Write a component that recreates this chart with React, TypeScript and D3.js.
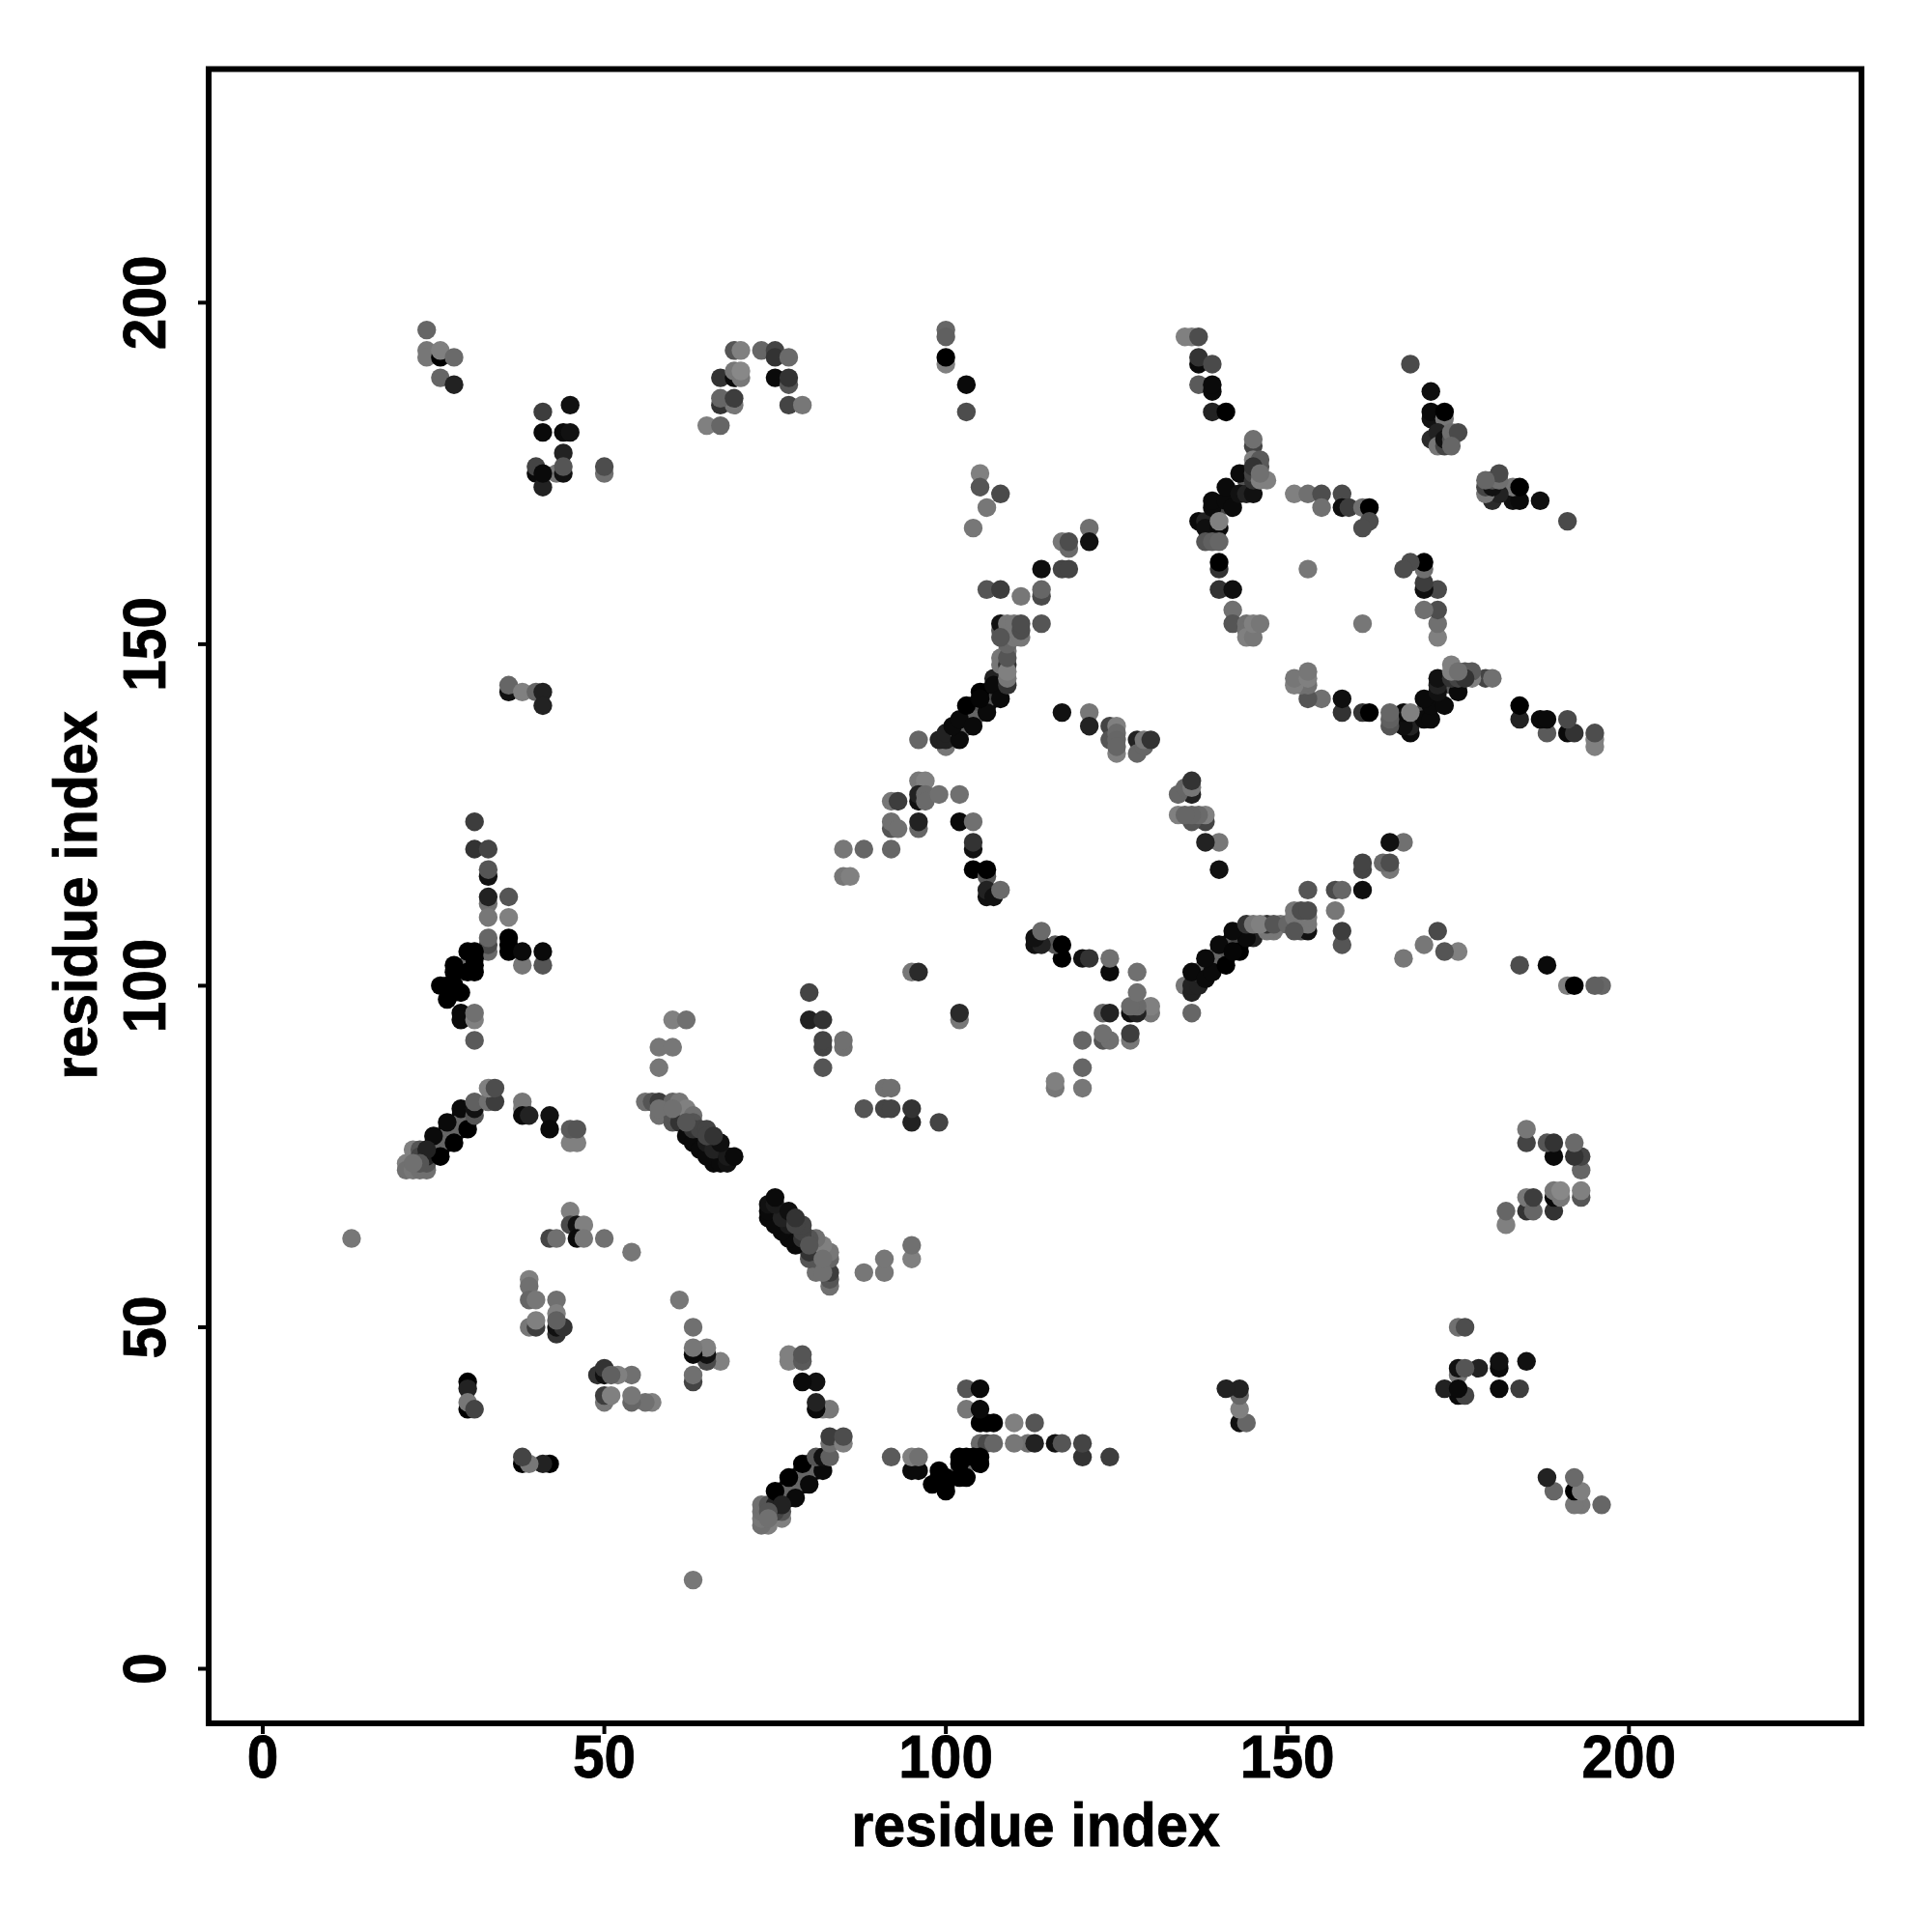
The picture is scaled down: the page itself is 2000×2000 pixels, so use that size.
import React from "react";
import * as d3 from "d3";

// each contact: [residue a, residue b, grey level]; the map is symmetric
type C = [number, number, number];

const topLeftContacts: C[] = [
  [24,196,0x66],[24,193,0x77],[24,192,0x77],[26,192,0x00],[26,193,0x80],[28,192,0x6a],[26,189,0x66],[28,188,0x22],
  [41,184,0x3d],[45,185,0x11],[41,181,0x0a],[44,181,0x0a],[45,181,0x11],[44,178,0x22],[40,175,0x0a],[40,176,0x44],[41,173,0x22],
  [43,175,0x77],[44,175,0x11],[44,176,0x55],[41,175,0x0a],[50,175,0x70],[50,176,0x4d],
  [69,193,0x55],[70,193,0x80],[67,189,0x33],[69,189,0x0a],[69,190,0x77],[70,189,0x77],[70,190,0x88],
  [67,185,0x33],[69,185,0x77],[67,186,0x66],[69,186,0x3d],[65,182,0x80],[67,182,0x66],
  [36,143,0x11],[36,144,0x66],[38,143,0x80],[40,143,0x66],[41,143,0x22],[41,141,0x22],
];

const topMiddleContacts: C[] = [
  [73,193,0x66],[75,193,0x44],[75,192,0x33],[77,192,0x6a],[75,189,0x0a],[77,188,0x55],[77,189,0x33],[77,185,0x44],[79,185,0x77],
  [100,196,0x66],[100,195,0x60],[100,191,0x80],[100,192,0x00],[103,188,0x0a],[103,184,0x4d],
  [105,175,0x80],[105,173,0x55],[108,172,0x4a],[106,170,0x77],[104,167,0x77],
  [121,167,0x70],[121,165,0x11],[117,165,0x77],[118,164,0x6a],[118,165,0x4d],[114,161,0x0f],[117,161,0x44],[118,161,0x44],
  [106,158,0x55],[108,158,0x3d],[111,157,0x77],[114,157,0x4a],[114,158,0x66],[114,153,0x55],
];

const helixBandContacts: C[] = [
  [96,136,0x66],[100,135,0x77],[99,136,0x22],[100,136,0x22],[100,137,0x22],
  [103,138,0x0a],[105,140,0x0a],[106,141,0x0a],[107,142,0x0a],[104,141,0x0a],[106,143,0x11],[108,144,0x0a],[107,145,0x22],
  [102,137,0x66],[103,139,0x3d],[104,140,0x66],
  [105,141,0x55],[106,142,0x55],[107,143,0x44],[104,139,0x66],
  [102,136,0x0a],[101,138,0x0a],[102,139,0x0a],[103,141,0x00],[104,138,0x0a],[105,143,0x00],[106,140,0x0a],[105,142,0x05],[107,144,0x0a],[108,142,0x0a],
  [108,148,0x77],[108,147,0x77],[108,152,0x55],[108,153,0x11],[109,144,0x33],[109,145,0x77],[109,147,0x33],[109,146,0x80],[109,149,0x77],[109,148,0x55],
  [109,150,0x66],[109,151,0x66],[109,152,0x55],[109,153,0x77],[110,153,0x77],[110,151,0x77],[111,151,0x77],[111,152,0x4d],[111,153,0x4d],
  [117,140,0x11],[121,140,0x77],[121,138,0x22],[124,138,0x44],[125,138,0x80],[124,136,0x55],[125,137,0x6a],[125,136,0x66],[125,134,0x80],
  [128,136,0x22],[128,134,0x66],[129,135,0x66],[129,136,0x77],[130,136,0x33],
];

const rightClusterContacts: C[] = [
  [135,195,0x80],[136,195,0x80],[137,195,0x4d],[137,191,0x0a],[137,192,0x33],[139,191,0x4a],[137,188,0x5a],[139,187,0x0a],[139,188,0x0a],[139,184,0x22],[141,184,0x00],
  [145,179,0x44],[145,180,0x70],[145,177,0x80],[146,176,0x55],[146,177,0x5a],[147,174,0x80],
  [140,170,0x44],[142,172,0x55],[144,174,0x55],[144,175,0x66],
  [137,168,0x0a],[138,168,0x22],[138,167,0x0f],[140,167,0x0a],[139,170,0x0a],[139,171,0x0a],[141,171,0x0a],[142,170,0x0a],[141,173,0x0a],[143,172,0x11],[143,175,0x0a],
  [144,172,0x22],[145,172,0x11],[145,174,0x33],[145,175,0x44],[145,176,0x33],[140,168,0x80],
  [138,165,0x55],[139,165,0x60],[140,165,0x66],[140,161,0x33],[140,162,0x00],[140,158,0x33],[142,158,0x0f],[142,155,0x70],[142,153,0x55],
  [144,153,0x70],[144,152,0x70],[144,151,0x80],[145,151,0x77],[145,153,0x80],[146,153,0x77],
  [153,161,0x77],
  [151,172,0x80],[153,172,0x70],[155,172,0x4d],[155,170,0x70],[158,172,0x4a],[158,170,0x0f],[159,170,0x3d],[161,170,0x70],[162,170,0x00],[162,168,0x4d],[161,167,0x4d],
  [168,191,0x4a],[171,187,0x0f],[171,183,0x11],[171,184,0x0a],[173,183,0x77],[173,184,0x00],[171,180,0x2a],[172,181,0x22],[172,179,0x77],[173,179,0x44],[173,180,0x11],[174,180,0x55],[174,181,0x70],[175,181,0x4a],
  [179,173,0x80],[179,174,0x66],[180,173,0x0a],[180,174,0x0a],[181,174,0x80],[181,175,0x55],[180,171,0x33],[183,173,0x80],[184,173,0x0a],[183,171,0x0a],[184,171,0x0a],[187,171,0x11],[191,168,0x4a],
  [167,161,0x4a],[168,162,0x4d],[170,161,0x70],[170,162,0x00],[170,158,0x0a],[170,159,0x33],[172,158,0x4d],[170,155,0x70],[172,155,0x5a],[172,153,0x70],[172,151,0x80],
  [146,174,0x80],[146,175,0x70],
  [153,142,0x55],[155,142,0x70],[158,142,0x11],[158,140,0x33],[161,140,0x44],[162,140,0x00],[165,138,0x5a],[165,140,0x70],[167,138,0x0a],[168,137,0x22],
  [151,144,0x77],[151,145,0x77],[153,144,0x77],[153,145,0x77],[153,146,0x80],
  [184,141,0x0a],[184,139,0x22],[187,139,0x0f],[188,139,0x0a],[188,137,0x4d],[191,139,0x4d],[191,137,0x0f],[192,137,0x33],[195,135,0x80],[195,136,0x70],[195,137,0x4d],
  [179,145,0x4a],[180,145,0x70],[177,146,0x5a],[174,147,0x80],
  [136,128,0x22],[134,128,0x77],[135,129,0x80],[136,129,0x80],[136,130,0x3d],
  [134,125,0x80],[135,125,0x66],[136,124,0x55],[136,125,0x66],[138,124,0x4a],[138,125,0x80],[138,121,0x22],[140,121,0x80],[140,117,0x0f],
];

const centreContacts: C[] = [
  [144,109,0x33],[145,109,0x77],[147,109,0x22],[148,108,0x55],[149,109,0x77],[151,111,0x77],[151,108,0x55],[151,109,0x66],[152,111,0x4d],[153,111,0x4d],[153,110,0x77],[153,109,0x66],
  [152,108,0x55],[153,108,0x11],[153,114,0x55],[157,111,0x77],[157,114,0x55],[158,114,0x60],[161,114,0x11],[161,118,0x44],[161,117,0x4a],[158,108,0x44],[158,106,0x55],
  [165,121,0x0f],[167,121,0x70],[164,118,0x77],[165,117,0x6a],[165,118,0x55],
  [172,108,0x44],[170,106,0x77],[173,105,0x55],[175,105,0x80],[167,104,0x77],[184,103,0x4d],[188,103,0x0a],[191,100,0x80],[192,100,0x00],[195,100,0x5a],[196,100,0x66],
  [96,130,0x77],[97,130,0x80],[96,127,0x11],[96,128,0x22],[97,128,0x6a],[97,127,0x6a],[99,128,0x70],[102,128,0x70],[92,127,0x77],[93,127,0x3d],
  [92,123,0x55],[92,124,0x70],[93,123,0x70],[96,123,0x66],[96,124,0x22],[102,124,0x0a],[104,124,0x70],[104,120,0x11],[104,121,0x33],[104,117,0x00],[106,116,0x55],[106,117,0x00],[106,113,0x11],[106,114,0x22],[107,113,0x11],[108,114,0x6a],
  [85,120,0x77],[88,120,0x66],[92,120,0x66],[85,116,0x77],[86,116,0x80],
  [113,106,0x11],[113,107,0x22],[114,106,0x22],[114,108,0x70],[116,106,0x66],[117,106,0x00],[117,104,0x00],[120,104,0x22],[121,104,0x33],[124,102,0x0a],[124,104,0x70],[128,102,0x6a],
  [128,99,0x70],[123,96,0x70],[124,96,0x22],[127,96,0x22],[128,96,0x2a],[128,97,0x5a],[130,96,0x70],[130,97,0x70],
  [120,92,0x5a],[123,92,0x55],[123,93,0x70],[124,92,0x70],[127,92,0x66],[127,93,0x44],[120,88,0x66],[116,85,0x77],[116,86,0x77],[120,85,0x77],
  [95,102,0x77],[96,102,0x2a],[80,99,0x44],[80,95,0x22],[82,95,0x33],[82,91,0x44],[82,92,0x44],[85,91,0x70],[85,92,0x70],[82,88,0x55],[102,95,0x66],[102,96,0x22],
  [91,85,0x70],[92,85,0x70],[88,82,0x55],[91,82,0x44],[92,82,0x44],[95,80,0x22],[95,82,0x33],[99,80,0x44],
];

const farContacts: C[] = [
  [185,79,0x80],[185,77,0x44],[188,77,0x66],[189,75,0x0a],[189,77,0x2a],[192,77,0x6a],[192,75,0x44],[193,75,0x33],[193,73,0x5a],
  [185,67,0x2a],[186,67,0x6a],[189,67,0x3d],[193,69,0x55],[193,70,0x80],[182,67,0x70],[182,65,0x80],[185,69,0x80],[186,69,0x3d],[189,69,0x0a],[190,69,0x77],[189,70,0x80],[190,70,0x80],
  [175,50,0x70],[176,50,0x4d],[175,43,0x66],[175,44,0x0f],[176,44,0x55],[178,44,0x2a],[181,44,0x0a],[181,45,0x11],[185,45,0x11],
  [173,41,0x33],[175,41,0x0f],[175,40,0x0a],[176,40,0x4d],[181,41,0x0a],[184,41,0x44],
  [141,41,0x2a],[143,40,0x55],[143,41,0x2a],[143,38,0x77],[143,36,0x0f],[144,36,0x6a],
  [188,28,0x22],[189,26,0x6a],[192,26,0x00],[192,28,0x70],[192,24,0x77],[193,24,0x77],[193,26,0x80],[196,24,0x5a],
];

const leftContacts: C[] = [
  [31,124,0x3d],[31,120,0x33],[33,120,0x44],[33,116,0x11],[33,117,0x55],[33,112,0x70],[33,113,0x22],[36,113,0x55],[33,110,0x77],[36,110,0x80],
  [33,105,0x6a],[33,106,0x4a],[33,107,0x66],[36,105,0x00],[36,106,0x00],[36,107,0x00],[38,103,0x77],[41,103,0x55],[38,105,0x0a],[41,105,0x0a],
  [30,103,0x70],[29,102,0x70],[30,105,0x00],[31,105,0x00],[28,103,0x00],[31,103,0x00],[30,102,0x00],[31,102,0x00],[28,102,0x00],
  [26,100,0x00],[27,100,0x00],[28,100,0x00],[29,99,0x00],[27,98,0x00],[28,99,0x00],
  [29,96,0x0a],[29,95,0x0a],[31,95,0x80],[31,96,0x70],[31,92,0x5a],
  [21,74,0x80],[21,73,0x70],[22,76,0x80],[22,73,0x77],[23,73,0x70],[24,73,0x70],[23,76,0x55],[23,75,0x44],[24,74,0x55],[24,75,0x22],
  [25,76,0x11],[26,76,0x0a],[25,77,0x0a],[27,77,0x0a],[27,79,0x0a],[28,78,0x0a],[29,79,0x0a],[29,81,0x0a],[30,80,0x0a],
  [26,77,0x66],[27,78,0x66],[28,79,0x66],[29,80,0x66],[30,81,0x66],
  [25,78,0x0a],[26,75,0x00],[27,80,0x0a],[28,77,0x00],[29,82,0x0a],[30,79,0x00],[31,81,0x55],[31,82,0x11],[31,83,0x60],[33,83,0x70],[34,83,0x3d],[33,85,0x80],[34,85,0x4d],
  [38,82,0x80],[38,83,0x77],[38,81,0x0a],[39,81,0x22],[42,81,0x11],[42,79,0x0a],[45,77,0x80],[46,77,0x80],[45,79,0x5a],[46,79,0x55],
  [60,95,0x80],[62,95,0x70],[58,91,0x77],[60,91,0x77],[58,88,0x77],
  [56,83,0x70],[57,83,0x55],[58,81,0x70],[58,83,0x3d],[60,80,0x55],[60,81,0x55],[60,83,0x66],[61,83,0x77],[61,80,0x33],
  [62,78,0x0a],[63,77,0x0a],[64,76,0x0a],[66,74,0x0a],[65,75,0x0a],[67,74,0x0a],[68,74,0x11],
  [65,77,0x1a],[66,76,0x22],[68,75,0x1a],
  [69,75,0x0a],[67,77,0x0f],
  [62,82,0x80],[63,81,0x70],[63,80,0x55],[63,79,0x33],[64,79,0x44],[65,79,0x44],[65,78,0x44],[66,78,0x33],
];

const lowerContacts: C[] = [
  [13,63,0x77],[45,67,0x80],[45,65,0x4a],[46,65,0x11],[47,65,0x80],[42,63,0x44],[43,63,0x70],[46,63,0x0a],[47,63,0x77],[50,63,0x70],[54,61,0x77],
  [39,57,0x80],[39,56,0x70],[39,54,0x66],[40,54,0x77],[43,54,0x70],[43,52,0x80],[39,50,0x77],[40,50,0x3d],[40,51,0x80],[43,49,0x33],[43,50,0x11],[44,50,0x33],
  [43,51,0x60],
  [30,42,0x00],[30,41,0x22],[30,38,0x00],[30,39,0x77],[31,38,0x44],[38,30,0x00],[39,30,0x70],[41,30,0x33],[42,30,0x00],
  [74,68,0x00],[74,67,0x0a],[74,66,0x0a],[76,64,0x0a],[78,62,0x0a],
  [76,24,0x22],[73,24,0x80],[74,23,0x55],[75,24,0x33],[76,23,0x33],[76,22,0x66],[74,22,0x70],[73,21,0x70],[74,21,0x70],
  [102,31,0x00],[103,31,0x00],[104,31,0x00],[105,31,0x11],[105,30,0x11],[102,29,0x00],[103,28,0x00],[102,28,0x00],
  [92,31,0x55],[95,31,0x70],[96,31,0x70],[95,29,0x0f],[96,29,0x0f],[99,29,0x00],[98,27,0x00],[100,26,0x00],[99,28,0x00],[100,28,0x00],[100,27,0x00],
  [103,41,0x60],[105,41,0x0a],[103,38,0x77],[105,38,0x0a],[105,36,0x00],[106,36,0x00],[107,36,0x00],[110,36,0x80],[113,36,0x4d],
  [105,33,0x70],[106,33,0x44],[107,33,0x5a],[110,33,0x77],[112,33,0x80],[113,33,0x22],[116,33,0x11],[117,33,0x3d],[120,33,0x44],[120,31,0x2a],[124,31,0x33],
  [79,45,0x44],[79,42,0x0a],[81,42,0x11],[81,39,0x22],[81,38,0x0f],[83,34,0x44],[83,33,0x55],[85,34,0x55],[85,33,0x77],
  [58,82,0x70],[83,58,0x3d],[83,57,0x44],[83,56,0x5a],[60,82,0x70],[80,62,0x55],[81,60,0x70],[83,60,0x55],[83,61,0x70],[82,62,0x77],[58,81,0x80],[88,58,0x77],[91,58,0x77],[91,60,0x77],[95,60,0x70],[95,62,0x70],
];

const tickValues = [0, 50, 100, 150, 200];
const axisTitle = "residue index";

const xScale = d3.scaleLinear().domain([-7.92, 234.04]).range([216, 1927]);
const yScale = d3.scaleLinear().domain([-7.99, 234.2]).range([1784, 71.5]);

const seen = new Set<string>();
const contacts: C[] = [];
[topLeftContacts, topMiddleContacts, helixBandContacts, rightClusterContacts, centreContacts, farContacts, leftContacts, lowerContacts]
  .flat()
  .forEach((c) => {
    const key = `${Math.min(c[0], c[1])}-${Math.max(c[0], c[1])}`;
    if (seen.has(key)) return;
    seen.add(key);
    contacts.push(c);
  });

const FONT = "'Liberation Sans', Arial, sans-serif";

export default function App() {
  const [x0, x1] = xScale.range();
  const [y0, y1] = yScale.range();
  return (
    <svg width={2000} height={2000} style={{ position: "absolute", left: 0, top: 0, background: "#fff" }} fontFamily={FONT} fontWeight="bold" stroke="none">
      {contacts.flatMap((c, i) =>
        [[c[0], c[1]], [c[1], c[0]]].map(([a, b], k) => (
          <circle key={`${i}-${k}`} cx={xScale(a)} cy={yScale(b)} r={9.7} fill={d3.rgb(c[2], c[2], c[2]).formatHex()} />
        ))
      )}
      <rect x={x0} y={y1} width={x1 - x0} height={y0 - y1} fill="none" stroke="#000" strokeWidth={6} />
      {tickValues.map((v) => (
        <g key={`x${v}`}>
          <line x1={xScale(v)} x2={xScale(v)} y1={y0} y2={y0 + 11} stroke="#000" strokeWidth={4} />
          <text transform={`translate(${xScale(v)},1840) scale(0.93,1)`} textAnchor="middle" fontSize={63} stroke="#000" strokeWidth={0.8}>{v}</text>
        </g>
      ))}
      {tickValues.map((v) => (
        <g key={`y${v}`}>
          <line x1={x0} x2={x0 - 11} y1={yScale(v)} y2={yScale(v)} stroke="#000" strokeWidth={4} />
          <text transform={`translate(171,${yScale(v)}) rotate(-90) scale(0.93,1)`} textAnchor="middle" fontSize={63} stroke="#000" strokeWidth={0.8}>{v}</text>
        </g>
      ))}
      <text transform="translate(1072,1910.5) scale(0.94,1)" textAnchor="middle" fontSize={63} stroke="#000" strokeWidth={0.8}>{axisTitle}</text>
      <text transform="translate(100,927) rotate(-90) scale(0.94,1)" textAnchor="middle" fontSize={63} stroke="#000" strokeWidth={0.8}>{axisTitle}</text>
    </svg>
  );
}
